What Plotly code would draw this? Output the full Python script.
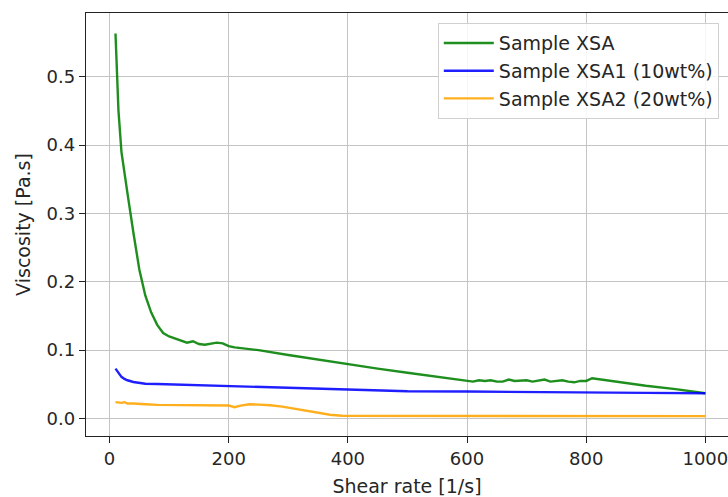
import plotly.graph_objects as go

# Shear rate [1/s] and viscosity [Pa.s]
xsa_rate = [10, 15, 20, 25, 30, 40, 50, 60, 70, 80, 90, 100, 110, 120, 130, 140, 150, 160,
            170, 180, 190, 200, 210, 250, 300, 350, 400, 450, 500, 550, 600, 610, 620, 630,
            640, 650, 660, 670, 680, 690, 700, 710, 720, 730, 740, 750, 760, 770, 780, 790,
            800, 810, 850, 900, 950, 1000]
xsa_visc = [0.563, 0.45, 0.39, 0.363, 0.33, 0.272, 0.218, 0.18, 0.155, 0.137, 0.125, 0.12,
            0.117, 0.114, 0.111, 0.113, 0.109, 0.108, 0.109, 0.111, 0.11, 0.106, 0.104, 0.1,
            0.093, 0.086, 0.079, 0.073, 0.067, 0.061, 0.056, 0.054, 0.056, 0.055, 0.056, 0.054,
            0.054, 0.057, 0.055, 0.055, 0.056, 0.054, 0.056, 0.057, 0.054, 0.055, 0.056, 0.054,
            0.053, 0.055, 0.055, 0.059, 0.054, 0.048, 0.043, 0.037]

xsa1_rate = [10, 15, 20, 25, 30, 40, 50, 60, 80, 100, 150, 200, 300, 400, 500, 600, 700, 800, 900, 1000]
xsa1_visc = [0.073, 0.066, 0.061, 0.058, 0.056, 0.0535, 0.052, 0.051, 0.0505, 0.050, 0.048, 0.047,
             0.044, 0.042, 0.040, 0.0395, 0.0385, 0.038, 0.0375, 0.037]

xsa2_rate = [10, 20, 25, 30, 40, 50, 60, 80, 100, 120, 140, 160, 180, 190, 200, 210, 220, 235,
             250, 270, 290, 310, 330, 350, 370, 390, 450, 500, 600, 700, 800, 900, 1000]
xsa2_visc = [0.024, 0.023, 0.024, 0.022, 0.022, 0.021, 0.021, 0.020, 0.020, 0.0195, 0.020, 0.0195,
             0.020, 0.0195, 0.019, 0.0166, 0.019, 0.021, 0.0205, 0.0195, 0.0175, 0.0145, 0.011,
             0.008, 0.0055, 0.004, 0.004, 0.0035, 0.0035, 0.0035, 0.0035, 0.0035, 0.0035]

names = ["Sample XSA", "Sample XSA1 (10wt%)", "Sample XSA2 (20wt%)"]
colors = ["green", "blue", "orange"]

x_ticks = [0, 200, 400, 600, 800, 1000]
y_ticks = [0.0, 0.1, 0.2, 0.3, 0.4, 0.5]
y_tick_text = ["0.0", "0.1", "0.2", "0.3", "0.4", "0.5"]

FONT = "DejaVu Sans"
FS_TICK = 18
FS = 19

fig = go.Figure()
for xs, ys, nm, c in [(xsa_rate, xsa_visc, names[0], colors[0]),
                      (xsa1_rate, xsa1_visc, names[1], colors[1]),
                      (xsa2_rate, xsa2_visc, names[2], colors[2])]:
    fig.add_trace(go.Scatter(x=xs, y=ys, mode="lines", name=nm,
                             line=dict(color=c, width=2.4), opacity=0.88))

axis_common = dict(
    showline=True, linecolor="#222", linewidth=1.3,
    ticks="outside", ticklen=6, tickwidth=1.3, tickcolor="#222",
    showgrid=True, gridcolor="#c4c4c4", gridwidth=1.3,
    zeroline=False, ticklabeloverflow="allow",
    tickfont=dict(family=FONT, size=FS_TICK, color="#262626"),
)

fig.update_layout(
    width=728, height=497,
    margin=dict(l=86, r=0, t=13, b=61),
    paper_bgcolor="white", plot_bgcolor="white",
    font=dict(family=FONT, size=FS, color="#262626"),
    xaxis=dict(range=[-39.5, 1038], tickvals=x_ticks, mirror=True,
               title=dict(text="Shear rate [1/s]", font=dict(family=FONT, size=FS), standoff=11),
               **axis_common),
    yaxis=dict(range=[-0.0255, 0.593], tickvals=y_ticks, ticktext=y_tick_text,
               title=dict(text="Viscosity [Pa.s]", font=dict(family=FONT, size=FS), standoff=10),
               **axis_common),
    legend=dict(x=0.548, y=0.976, xanchor="left", yanchor="top", itemwidth=50,
                bgcolor="rgba(255,255,255,0.85)", bordercolor="#d0d0d0", borderwidth=1,
                font=dict(family=FONT, size=FS, color="#262626")),
    showlegend=True,
)

fig.write_html("out.html")
